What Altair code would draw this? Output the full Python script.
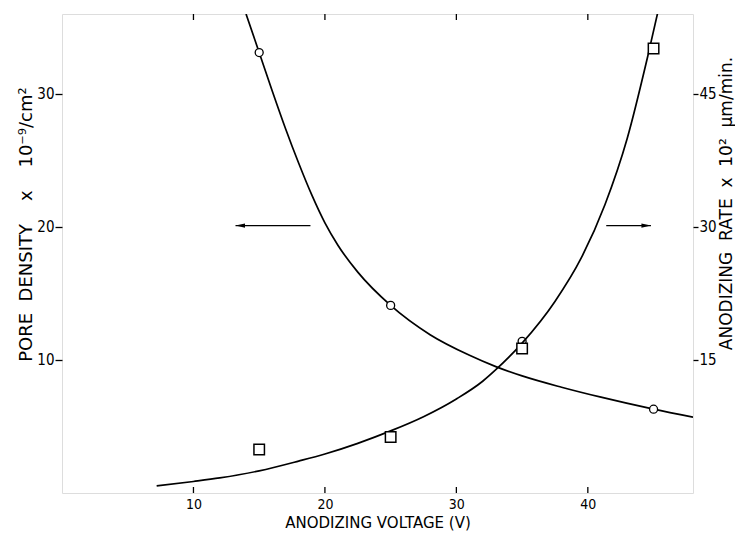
import altair as alt
import pandas as pd

# ---- data ----
voltage_pts = [15, 25, 35, 45]
pore_density_pts = [33.1, 14.1, 11.4, 6.3]          # left axis (x10^-9 /cm^2)
rate_pts = [4.9, 6.3, 16.3, 50.1]                   # right axis (x10^2 um/min)

pore_curve_v = [14.0, 15, 16, 17, 18, 19, 20, 21, 22.5, 25, 28, 31, 33, 35, 38, 41, 45, 48]
pore_curve_y = [36.0, 33.1, 30.2, 27.4, 24.8, 22.4, 20.3, 18.6, 16.6, 14.1, 11.9, 10.35, 9.5, 8.8, 7.95, 7.2, 6.3, 5.7]

rate_curve_v = [7.2, 10, 12, 15, 18, 20, 22.5, 25, 27.5, 30, 32, 33, 35, 37.5, 39.5, 41.3, 43, 44.6, 45.6]
rate_curve_y = [0.8, 1.3, 1.7, 2.5, 3.6, 4.4, 5.6, 7.0, 8.6, 10.6, 12.6, 13.9, 16.9, 21.6, 26.5, 32.5, 40.0, 49.5, 56.0]

left_arrow_v = [13.2, 18.9]
right_arrow_v = [41.4, 44.8]
arrow_y = 20.1

x_ticks = [10, 20, 30, 40]
left_ticks = [10, 20, 30]
right_ticks = [15, 30, 45]

TICKFONT = "DejaVu Sans Condensed, sans-serif"
TITLEFONT = "DejaVu Sans, sans-serif"
NB = "\u00a0"

W, H = 631, 479

pore_curve = pd.DataFrame({"x": pore_curve_v, "y": pore_curve_y})
rate_curve = pd.DataFrame({"x": rate_curve_v, "y": rate_curve_y})
pore_df = pd.DataFrame({"x": voltage_pts, "y": pore_density_pts})
rate_df = pd.DataFrame({"x": voltage_pts, "y": rate_pts})
arrows = pd.DataFrame({
    "x": left_arrow_v + right_arrow_v,
    "y": [arrow_y] * 4,
    "g": ["L", "L", "R", "R"],
})
heads = pd.DataFrame({"x": [left_arrow_v[0], right_arrow_v[1]], "y": [arrow_y] * 2, "g": ["L", "R"]})
xt = pd.DataFrame({"x": x_ticks})

xscale = alt.Scale(domain=[0, 48], nice=False, zero=False)
lscale = alt.Scale(domain=[0, 36], nice=False)
rscale = alt.Scale(domain=[0, 54], nice=False)

x_axis = alt.Axis(
    values=x_ticks, title="ANODIZING VOLTAGE (V)", domain=False, ticks=False, tickSize=0,
    labelPadding=4, grid=False, labelFont=TICKFONT, labelFontSize=14, labelColor="black",
    titleFont=TITLEFONT, titleFontSize=15, titleFontWeight="normal", titleColor="black",
    titleY=29, titleBaseline="middle",
)
X = alt.X("x:Q", scale=xscale, axis=x_axis)

left_axis = alt.Axis(
    values=left_ticks, title=f"PORE{NB*2}DENSITY{NB*4}x{NB*4}10⁻⁹/cm²", domain=False,
    tickSize=7, tickColor="black", tickWidth=1.3, labelPadding=1, grid=False,
    labelFont=TICKFONT, labelFontSize=15, labelColor="black",
    titleFont=TITLEFONT, titleFontSize=18, titleFontWeight="normal", titleColor="black",
    titleAngle=270, titleX=-36, titleY=210, titleAlign="center", titleBaseline="middle",
)
right_axis = alt.Axis(
    values=right_ticks, title=f"ANODIZING{NB*2}RATE{NB*2}x{NB*2}10²{NB*2}μm/min.",
    orient="right", domain=False,
    tickSize=5, tickColor="black", tickWidth=1.3, labelPadding=1, grid=False,
    labelFont=TICKFONT, labelFontSize=15, labelColor="black",
    titleFont=TITLEFONT, titleFontSize=17, titleFontWeight="normal", titleColor="black",
    titleAngle=270, titleX=33, titleY=189, titleAlign="center", titleBaseline="middle",
)

YL = alt.Y("y:Q", scale=lscale, axis=left_axis)
YR = alt.Y("y:Q", scale=rscale, axis=right_axis)

pore_line = alt.Chart(pore_curve).mark_line(
    color="black", strokeWidth=1.7, interpolate="monotone", clip=True
).encode(x=X, y=YL)
pore_points = alt.Chart(pore_df).mark_point(
    shape="circle", filled=True, fill="white", stroke="black", strokeWidth=1.3, size=64, opacity=1
).encode(x=X, y=YL)
arrow_lines = alt.Chart(arrows).mark_line(color="black", strokeWidth=1.2).encode(
    x=X, y=YL, detail="g:N"
)
arrow_heads = alt.Chart(heads).mark_point(
    filled=True, color="black", size=90, opacity=1
).encode(
    x=X, y=YL,
    shape=alt.Shape("g:N", scale=alt.Scale(
        domain=["L", "R"],
        range=["M0,0L2,-0.45L2,0.45Z", "M0,0L-2,-0.45L-2,0.45Z"]), legend=None),
)
bottom_ticks = alt.Chart(xt).mark_rule(color="black", strokeWidth=1.3).encode(
    x=X, y=alt.value(H), y2=alt.value(H - 6)
)
top_ticks = alt.Chart(xt).mark_rule(color="black", strokeWidth=1.3).encode(
    x=X, y=alt.value(0), y2=alt.value(6)
)

left = alt.layer(pore_line, arrow_lines, arrow_heads, bottom_ticks, top_ticks, pore_points)

rate_line = alt.Chart(rate_curve).mark_line(
    color="black", strokeWidth=1.7, interpolate="monotone", clip=True
).encode(x=X, y=YR)
rate_points = alt.Chart(rate_df).mark_point(
    shape="square", filled=True, fill="white", stroke="black", strokeWidth=1.5, size=110, opacity=1
).encode(x=X, y=YR)
right = alt.layer(rate_line, rate_points)

chart = alt.layer(left, right).resolve_scale(y="independent").properties(
    width=W, height=H,
    autosize=alt.AutoSizeParams(type="none"),
    padding={"left": 54, "top": 6, "right": 42, "bottom": 38},
).configure_view(stroke="black", strokeWidth=1.6).configure(background="white")

chart.save("out.html", embed_options={"renderer": "svg", "actions": False})
